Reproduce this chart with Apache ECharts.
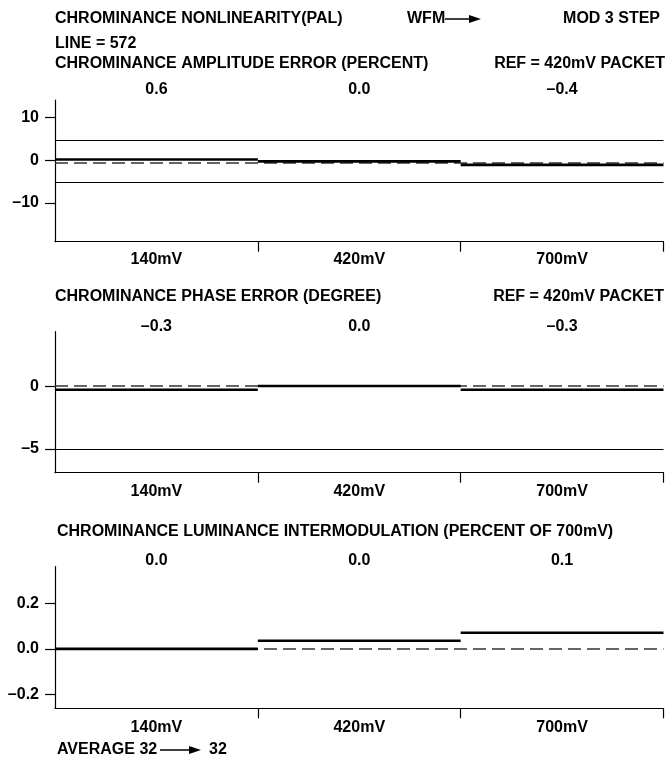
<!DOCTYPE html>
<html>
<head>
<meta charset="utf-8">
<script src="https://cdn.jsdelivr.net/npm/echarts@6/dist/echarts.min.js"></script>
<style>html,body{margin:0;padding:0;background:#fff}#c{width:669px;height:760px}</style>
</head>
<body>
<div id="c"></div>
<script>
// ---- data ----
const categories = ['140mV', '420mV', '700mV'];

const ampValues = [0.15, -0.3, -1.1];
const ampReadout = ['0.6', '0.0', '–0.4'];
const ampRef = -0.5;
const ampLimits = [4.6, -5.1];
const ampTicks = [-10, 0, 10];

const phaseValues = [-0.25, 0.05, -0.25];
const phaseReadout = ['–0.3', '0.0', '–0.3'];
const phaseRef = 0.08;
const phaseLimits = [-5];
const phaseTicks = [-5, 0];

const imValues = [0.0, 0.036, 0.071];
const imReadout = ['0.0', '0.0', '0.1'];
const imRef = 0;
const imLimits = [];
const imTicks = [-0.2, 0, 0.2];

const segTicks = [1, 2, 3];
const segCenters = [0.5, 1.5, 2.5];

// ---- chart ----
const FONT = "'Liberation Sans', Arial, sans-serif";
const txt = { fontFamily: FONT, fontWeight: 'bold', fontSize: 16, color: '#000' };
const chart = echarts.init(document.getElementById('c'), null, { renderer: 'canvas' });

const panels = [
  { values: ampValues, readout: ampReadout, ref: ampRef, limits: ampLimits, ticks: ampTicks,
    min: -19, max: 14, top: 100, height: 141.7, topMargin: 10, botMargin: 18.3, dec: 0 },
  { values: phaseValues, readout: phaseReadout, ref: phaseRef, limits: phaseLimits, ticks: phaseTicks,
    min: -6.9, max: 4.4, top: 331.7, height: 141, topMargin: 5, botMargin: 19, dec: 0 },
  { values: imValues, readout: imReadout, ref: imRef, limits: imLimits, ticks: imTicks,
    min: -0.26, max: 0.36, top: 566.7, height: 141.6, topMargin: 5.7, botMargin: 19.4, dec: 1 }
];

function fmtNum(v, dec) {
  const s = Math.abs(v).toFixed(dec);
  return v < 0 ? '–' + s : s;
}

const grid = [], xAxis = [], yAxis = [], series = [];
panels.forEach((p, i) => {
  grid.push({ left: 55, width: 608.5, top: p.top, height: p.height, containLabel: false });
  xAxis.push({
    type: 'value', gridIndex: i, min: 0, max: 3, position: 'bottom',
    axisLine: { show: true, onZero: false, lineStyle: { color: '#000', width: 1.2 } },
    axisTick: { show: true, customValues: segTicks, length: 10, lineStyle: { color: '#000', width: 1.2 } },
    axisLabel: Object.assign({ customValues: segCenters, margin: p.botMargin, verticalAlign: 'middle',
      formatter: v => categories[Math.floor(v)] }, txt),
    splitLine: { show: false }
  });
  xAxis.push({
    type: 'value', gridIndex: i, min: 0, max: 3, position: 'top',
    axisLine: { show: false }, axisTick: { show: false },
    axisLabel: Object.assign({ customValues: segCenters, margin: p.topMargin, verticalAlign: 'middle',
      formatter: v => p.readout[Math.floor(v)] }, txt),
    splitLine: { show: false }
  });
  yAxis.push({
    type: 'value', gridIndex: i, min: p.min, max: p.max,
    axisLine: { show: true, onZero: false, lineStyle: { color: '#000', width: 1.2 } },
    axisTick: { show: true, customValues: p.ticks, length: 10, lineStyle: { color: '#000', width: 1.2 } },
    axisLabel: Object.assign({ customValues: p.ticks, margin: 16, padding: [5, 0, 0, 0],
      formatter: v => fmtNum(v, p.dec) }, txt),
    splitLine: { show: false }
  });
  const ml = [{ yAxis: p.ref, lineStyle: { type: [13, 6], color: '#333', width: 1.5 } }]
    .concat(p.limits.map(l => ({ yAxis: l, lineStyle: { type: 'solid', color: '#000', width: 1.2 } })));
  series.push({
    type: 'line', xAxisIndex: i * 2, yAxisIndex: i, data: [], z: 1, silent: true,
    markLine: { silent: true, symbol: ['none', 'none'], label: { show: false }, data: ml, animation: false }
  });
  series.push({
    type: 'custom', xAxisIndex: i * 2, yAxisIndex: i, z: 5, clip: false, silent: true,
    data: p.values.map((v, k) => [k, v]),
    encode: { x: 0, y: 1 },
    renderItem: (params, api) => {
      const k = api.value(0), v = api.value(1);
      const a = api.coord([k, v]), b = api.coord([k + 1, v]);
      return { type: 'line', shape: { x1: a[0], y1: a[1], x2: b[0], y2: b[1] },
        style: { stroke: '#000', lineWidth: 2.6 } };
    }
  });
});

function t(text, x, y, align) {
  return { type: 'text', x: x, y: y, style: { text: text, fill: '#000', font: 'bold 16px ' + FONT,
    textAlign: align || 'left', textVerticalAlign: 'middle' } };
}
function arrow(x1, x2, y) {
  return [
    { type: 'line', shape: { x1: x1, y1: y, x2: x2 - 10, y2: y }, style: { stroke: '#000', lineWidth: 1.5 } },
    { type: 'polygon', shape: { points: [[x2 - 12, y - 4], [x2, y], [x2 - 12, y + 4]] }, style: { fill: '#000' } }
  ];
}

const graphic = [
  t('CHROMINANCE NONLINEARITY(PAL)', 55, 19),
  t('WFM', 407, 19),
  t('MOD 3 STEP', 660, 19, 'right'),
  t('LINE = 572', 55, 44),
  t('CHROMINANCE AMPLITUDE ERROR (PERCENT)', 55, 64),
  t('REF = 420mV PACKET', 665, 64, 'right'),
  t('CHROMINANCE PHASE ERROR (DEGREE)', 55, 297),
  t('REF = 420mV PACKET', 664, 297, 'right'),
  t('CHROMINANCE LUMINANCE INTERMODULATION (PERCENT OF 700mV)', 57, 532),
  t('AVERAGE 32', 57, 750),
  t('32', 209, 750)
].concat(arrow(445, 481, 19)).concat(arrow(160, 201, 750));

chart.setOption({
  animation: false,
  backgroundColor: '#fff',
  grid: grid, xAxis: xAxis, yAxis: yAxis, series: series, graphic: graphic
});
</script>
</body>
</html>
